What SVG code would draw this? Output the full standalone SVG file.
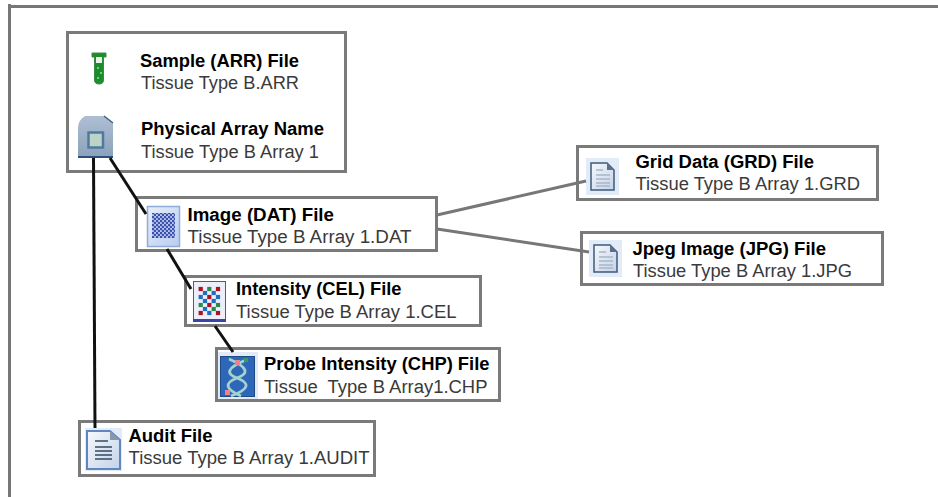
<svg xmlns="http://www.w3.org/2000/svg" width="938" height="497" viewBox="0 0 938 497">
<style>
.box{fill:#fff;stroke:#7a7a7a;stroke-width:3}
.t{font-family:"Liberation Sans",Arial,sans-serif;font-size:18px;fill:#3a3a3a}
.b{font-family:"Liberation Sans",Arial,sans-serif;font-size:18px;font-weight:bold;fill:#000}
.k{stroke:#111;stroke-width:3;fill:none}
.g{stroke:#777;stroke-width:3;fill:none}
.r{fill:#b01020}.u{fill:#1f6fc0}.n{fill:#2a8a4a}
</style>
<defs>
<linearGradient id="doc" x1="0" y1="0" x2="1" y2="1"><stop offset="0" stop-color="#f6f8fc"/><stop offset="1" stop-color="#c3d3ea"/></linearGradient>
<linearGradient id="chip" x1="0" y1="0" x2="0" y2="1"><stop offset="0" stop-color="#aebfd4"/><stop offset="1" stop-color="#8ba1bc"/></linearGradient>
<linearGradient id="frame" x1="0" y1="0" x2="1" y2="1"><stop offset="0" stop-color="#e6eefb"/><stop offset="1" stop-color="#b9cdf0"/></linearGradient>
<pattern id="dots" width="4" height="4" patternUnits="userSpaceOnUse"><rect width="4" height="4" fill="#bccbed"/><circle cx="1" cy="1" r="1.300" fill="#3c50ad"/><circle cx="3" cy="3" r="1.300" fill="#3c50ad"/></pattern>
<g id="gdoc">
<rect x="0" y="0" width="33" height="37" fill="#e2ebf8"/>
<path d="M5 5H21L28 12V32H5Z" fill="url(#doc)" stroke="#3f5a78" stroke-width="1.500"/>
<path d="M21 5V12H28Z" fill="#5c7088"/>
<path d="M10 12H17M10 17H24M10 21H24M10 25H24M10 28H24" stroke="#a8b6c6" stroke-width="1.500"/>
</g>
</defs>
<path d="M9.500 4V497M8 6.500H938" class="g"/>
<g id="sample">
<rect class="box" x="67.500" y="32.500" width="278" height="139"/>
<path d="M92 53H106V57H103.500V80Q103.500 84 99 84Q94.500 84 94.500 80V57H92Z" fill="#1c8c2c" stroke="#3c8a45"/>
<rect x="96" y="57" width="6" height="6" fill="#e8f3e8"/>
<path d="M97 67h2v2h-2zM100 72h2v2h-2zM97 77h2v2h-2z" fill="#6fd07a"/>
<text class="b" x="140" y="67" textLength="159" lengthAdjust="spacingAndGlyphs">Sample (ARR) File</text>
<text class="t" x="141" y="89" textLength="158" lengthAdjust="spacingAndGlyphs">Tissue Type B.ARR</text>
<path d="M78 128Q78 120 85 116L104 116L113 123V157H78Z" fill="url(#chip)"/>
<path d="M104 116L113 123" stroke="#3f5f86" stroke-width="1.500"/>
<rect x="78" y="156" width="35" height="2" fill="#2c4f7c"/>
<rect x="88.500" y="132.500" width="14.500" height="15" fill="#bcd3c8" stroke="#4f7a9f" stroke-width="2.500"/>
<text class="b" x="141" y="135" textLength="183" lengthAdjust="spacingAndGlyphs">Physical Array Name</text>
<text class="t" x="141" y="158" textLength="178" lengthAdjust="spacingAndGlyphs">Tissue Type B Array 1</text>
</g>
<g id="image">
<rect class="box" x="136.500" y="197.500" width="300" height="53"/>
<rect x="147.500" y="206.500" width="32" height="40" fill="url(#frame)" stroke="#8eadd8" stroke-width="1.500"/>
<rect x="152" y="213" width="23" height="25" fill="url(#dots)"/>
<text class="b" x="187.500" y="221" textLength="146.500" lengthAdjust="spacingAndGlyphs">Image (DAT) File</text>
<text class="t" x="187.500" y="243" textLength="224" lengthAdjust="spacingAndGlyphs">Tissue Type B Array 1.DAT</text>
</g>
<g id="grd">
<rect class="box" x="577.500" y="146.500" width="300" height="53"/>
<use href="#gdoc" x="586" y="158"/>
<text class="b" x="635.500" y="168" textLength="178.500" lengthAdjust="spacingAndGlyphs">Grid Data (GRD) File</text>
<text class="t" x="635.500" y="190" textLength="224.500" lengthAdjust="spacingAndGlyphs">Tissue Type B Array 1.GRD</text>
</g>
<g id="jpg">
<rect class="box" x="581.500" y="232.500" width="301" height="52"/>
<use href="#gdoc" x="589" y="240"/>
<text class="b" x="632.500" y="255" textLength="193.500" lengthAdjust="spacingAndGlyphs">Jpeg Image (JPG) File</text>
<text class="t" x="633" y="277" textLength="219" lengthAdjust="spacingAndGlyphs">Tissue Type B Array 1.JPG</text>
</g>
<g id="cel">
<rect class="box" x="185.500" y="276.500" width="295" height="49"/>
<rect x="193.500" y="281.500" width="32" height="40" fill="#eceefa" stroke="#4a54b8"/>
<rect x="193" y="319" width="33" height="3" fill="#3a45a8"/>
<g transform="translate(-2.100 -2.100)">
<rect class="r" x="200.700" y="289" width="4.200" height="4.200"/><rect class="n" x="209.300" y="289" width="4.200" height="4.200"/><rect class="r" x="218" y="289" width="4.200" height="4.200"/>
<rect class="u" x="205" y="293" width="4.200" height="4.200"/><rect class="u" x="213.700" y="293" width="4.200" height="4.200"/>
<rect class="u" x="200.700" y="297" width="4.200" height="4.200"/><rect class="r" x="209.300" y="297" width="4.200" height="4.200"/><rect class="u" x="218" y="297" width="4.200" height="4.200"/>
<rect class="u" x="205" y="301" width="4.200" height="4.200"/><rect class="u" x="213.700" y="301" width="4.200" height="4.200"/>
<rect class="n" x="200.700" y="305" width="4.200" height="4.200"/><rect class="r" x="209.300" y="305" width="4.200" height="4.200"/><rect class="n" x="218" y="305" width="4.200" height="4.200"/>
<rect class="u" x="205" y="309" width="4.200" height="4.200"/><rect class="n" x="213.700" y="309" width="4.200" height="4.200"/>
<rect class="r" x="200.700" y="313" width="4.200" height="4.200"/><rect class="u" x="209.300" y="313" width="4.200" height="4.200"/><rect class="r" x="218" y="313" width="4.200" height="4.200"/>
</g>
<text class="b" x="236" y="295" textLength="165.500" lengthAdjust="spacingAndGlyphs">Intensity (CEL) File</text>
<text class="t" x="236" y="318" textLength="220.500" lengthAdjust="spacingAndGlyphs">Tissue Type B Array 1.CEL</text>
</g>
<g id="chp">
<rect class="box" x="216.500" y="348.500" width="283" height="52"/>
<rect x="218" y="352" width="40" height="47" fill="#e2eaf6"/>
<rect x="220.500" y="356.500" width="34" height="40" fill="#2f67b8" stroke="#1e4a86"/>
<path d="M229 359C250 368 248 374 237 378C224 383 225 389 241 396M246 360C226 368 226 374 237 378C250 383 250 389 231 396" fill="none" stroke="#a4d2cf" stroke-width="2.800"/>
<rect x="235" y="360" width="5" height="5" fill="#f08090"/>
<rect x="244" y="358" width="4" height="4" fill="#2da060"/>
<rect x="225" y="390" width="5" height="5" fill="#f08090"/>
<text class="b" x="264" y="370" textLength="225.500" lengthAdjust="spacingAndGlyphs">Probe Intensity (CHP) File</text>
<text class="t" x="264" y="393" textLength="223.500" lengthAdjust="spacingAndGlyphs" xml:space="preserve">Tissue  Type B Array1.CHP</text>
</g>
<g id="audit">
<rect class="box" x="79.500" y="421.500" width="295" height="54"/>
<rect x="85" y="428" width="37" height="43" fill="#e2ebf8"/>
<path d="M87 431H110L120 440V469H87Z" fill="url(#doc)" stroke="#5f86c0" stroke-width="2"/>
<path d="M110 431V440H120Z" fill="#8b97a8"/>
<path d="M95 441H108M95 447H112M95 451H112M95 455H112M95 459H112" stroke="#34495f" stroke-width="1.500"/>
<text class="b" x="128.500" y="442" textLength="84" lengthAdjust="spacingAndGlyphs">Audit File</text>
<text class="t" x="128.500" y="464" textLength="241" lengthAdjust="spacingAndGlyphs">Tissue Type B Array 1.AUDIT</text>
</g>
<g id="connectors">
<path class="k" d="M93.500 158L95 428"/>
<path class="k" d="M110 158L146 214"/>
<path class="k" d="M167 249L191 289"/>
<path class="k" d="M215 326L233 352"/>
<path class="g" d="M437 215L586 181"/>
<path class="g" d="M437 229L589 252"/>
</g>
</svg>
